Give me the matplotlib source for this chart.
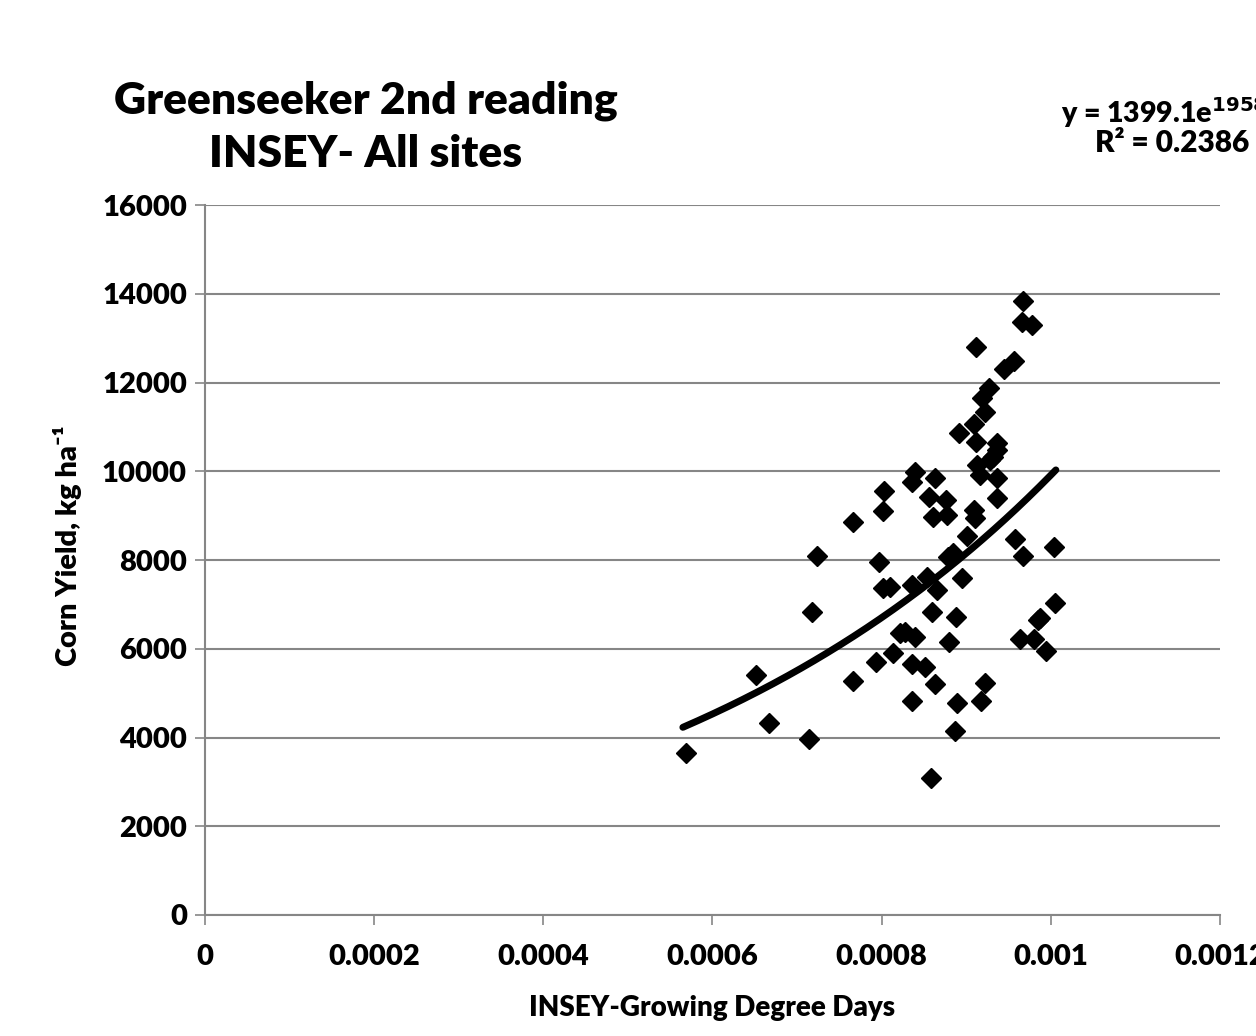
import matplotlib as mpl
mpl.use('Agg')
import matplotlib.pyplot as plt
import numpy as np

# INSEY values (x) and corn yield (y)
insey = [
    0.000569, 0.000651, 0.000667, 0.000718, 0.000724, 0.000714, 0.000766, 0.000766,
    0.000797, 0.000803, 0.000802, 0.000802, 0.000810, 0.000793, 0.000813, 0.000822,
    0.000828, 0.000839, 0.000836, 0.000839, 0.000836, 0.000836, 0.000836, 0.000851,
    0.000854, 0.000856, 0.000861, 0.000863, 0.000860, 0.000863, 0.000865, 0.000876,
    0.000877, 0.000878, 0.000884, 0.000880, 0.000888, 0.000889, 0.000887, 0.000891,
    0.000895, 0.000901, 0.000909, 0.000910, 0.000909, 0.000912, 0.000912, 0.000913,
    0.000916, 0.000919, 0.000922, 0.000927, 0.000917, 0.000922, 0.000928, 0.000932,
    0.000936, 0.000936, 0.000936, 0.000936, 0.000945, 0.000956, 0.000958, 0.000964,
    0.000967, 0.000967, 0.000966, 0.000978, 0.000980, 0.000985, 0.000987, 0.000994,
    0.001004, 0.001005, 0.000858,
]
corn_yield = [
    3650, 5410, 4330, 6830, 8090, 3965, 8855, 5275,
    7955, 9555, 9105, 7370, 7390, 5700, 5905, 6355,
    6375, 6265, 7435, 9985, 9760, 5655, 4820, 5590,
    7615, 9420, 8970, 9850, 6830, 5205, 7325, 9350,
    9015, 8070, 8160, 6150, 6715, 4775, 4145, 10860,
    7595, 8540, 9125, 8945, 11065, 12800, 10660, 10140,
    9915, 11650, 11335, 11875, 4820, 5230, 10255, 10320,
    10480, 10635, 9850, 9395, 12305, 12485, 8475, 6220,
    8090, 13835, 13365, 13295, 6220, 6650, 6695, 5950,
    8295, 7030, 3085,
]

# exponential trendline shown on the chart: y = a * exp(b * x)
trend_a = 1399.1
trend_b = 1958.0
trend_x_range = (0.000565, 0.001006)

y_ticks = [0, 2000, 4000, 6000, 8000, 10000, 12000, 14000, 16000]
x_ticks = [0, 0.0002, 0.0004, 0.0006, 0.0008, 0.001, 0.0012]
x_tick_labels = ['0', '0.0002', '0.0004', '0.0006', '0.0008', '0.001', '0.0012']

plt.rcParams['font.family'] = ['Lato', 'DejaVu Sans']
plt.rcParams['font.weight'] = 'bold'

fig = plt.figure(figsize=(12.56, 10.36), dpi=100)
ax = fig.add_axes([0.1632, 0.1168, 0.8081, 0.6853])

ax.set_xlim(0, 0.0012)
ax.set_ylim(0, 16000)
ax.set_yticks(y_ticks)
ax.set_xticks(x_ticks)
ax.set_xticklabels(x_tick_labels, fontsize=21, fontweight='heavy')
ax.set_yticklabels([str(v) for v in y_ticks], fontsize=21, fontweight='heavy')
ax.tick_params(axis='both', direction='out', length=7, width=1.2,
               color='#868686')
ax.yaxis.set_tick_params(pad=6)
ax.xaxis.set_tick_params(pad=14)

ax.grid(axis='y', color='#868686', linewidth=1.5)
ax.set_axisbelow(True)
for side in ['top', 'right']:
    ax.spines[side].set_visible(False)
for side in ['left', 'bottom']:
    ax.spines[side].set_color('#868686')
    ax.spines[side].set_linewidth(1.5)

ax.plot(insey, corn_yield, linestyle='none', marker='D', markersize=10,
        color='black', clip_on=False, zorder=3)

tx = np.linspace(trend_x_range[0], trend_x_range[1], 200)
ax.plot(tx, trend_a * np.exp(trend_b * tx), color='black', linewidth=5,
        solid_capstyle='round', zorder=4)

ax.set_xlabel('INSEY-Growing Degree Days', fontsize=20, fontweight='heavy',
              labelpad=18)
ax.set_ylabel('Corn Yield, kg ha⁻¹', fontsize=21,
              fontweight='heavy', labelpad=10)
ax.yaxis.set_label_coords(-0.121, 0.52)

fig.text(0.291, 0.877, 'Greenseeker 2nd reading\nINSEY- All sites',
         ha='center', va='center', fontsize=32, fontweight='heavy',
         linespacing=1.4)
fig.text(0.845, 0.891, 'y = 1399.1e$^{\\mathbf{1958x}}$', ha='left',
         va='center', fontsize=20.5, fontweight='heavy')
fig.text(0.995, 0.862, 'R² = 0.2386', ha='right', va='center',
         fontsize=21.5, fontweight='heavy')

fig.savefig('out.png', dpi=100)
